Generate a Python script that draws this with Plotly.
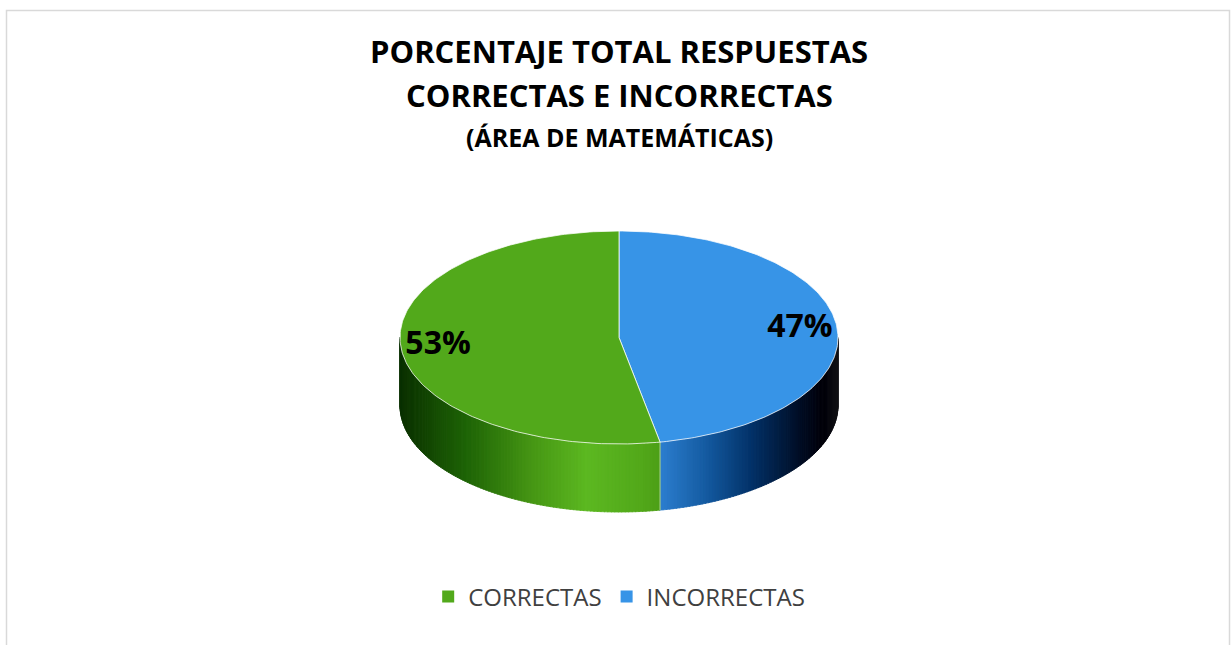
import numpy as np
import plotly.graph_objects as go

# ---------------- data ----------------
categories = ["CORRECTAS", "INCORRECTAS"]
values = [53, 47]
title_lines = ["PORCENTAJE TOTAL RESPUESTAS", "CORRECTAS E INCORRECTAS", "(ÁREA DE MATEMÁTICAS)"]

# ---------------- style ----------------
W, H = 1231, 645
FONT = "Open Sans"
top_colors = {"CORRECTAS": "#52A91B", "INCORRECTAS": "#3794E7"}
# side shading stops: (normalised x position, rgb)
side_stops = {
    "CORRECTAS": [(-1.0, (10, 48, 0)), (-0.7, (30, 100, 6)), (-0.4, (70, 150, 20)),
                  (-0.15, (92, 184, 33)), (0.1, (82, 168, 26)), (0.25, (72, 152, 20))],
    "INCORRECTAS": [(0.15, (48, 132, 215)), (0.4, (20, 90, 160)), (0.6, (3, 50, 105)),
                    (0.82, (0, 14, 38)), (0.93, (0, 0, 8)), (1.0, (18, 18, 22))],
}
cx, cy, rx, ry, depth = 619, 337.5, 219, 106.5, 68
label_r = 0.83

# pie slices: first (INCORRECTAS) starts at 12 o'clock, clockwise
draw_order = ["INCORRECTAS", "CORRECTAS"]
val = dict(zip(categories, values))
total = float(sum(values))


def pt(a, dy=0.0):
    return cx + rx * np.sin(a), cy - ry * np.cos(a) + dy


def shade(cat, u):
    st = side_stops[cat]
    us = [s[0] for s in st]
    rgb = [int(round(np.interp(u, us, [s[1][k] for s in st]))) for k in range(3)]
    return "rgb(%d,%d,%d)" % tuple(rgb)


fig = go.Figure()

spans = {}
start = 0.0
for cat in draw_order:
    span = 2 * np.pi * val[cat] / total
    spans[cat] = (start, start + span)
    start += span

# side wall (visible front half: pi/2 .. 3pi/2)
for cat in draw_order:
    a0, a1 = spans[cat]
    lo, hi = max(a0, np.pi / 2), min(a1, 3 * np.pi / 2)
    if hi <= lo:
        continue
    n = max(2, int((hi - lo) / (np.pi / 200)))
    edges = np.linspace(lo, hi, n + 1)
    for e0, e1 in zip(edges[:-1], edges[1:]):
        sub = np.linspace(e0, e1 + (e1 - e0) * 0.2, 4)
        xt, yt = pt(sub)
        xb, yb = pt(sub[::-1], depth)
        xs = np.concatenate([xt, xb, xt[:1]])
        ys = np.concatenate([yt, yb, yt[:1]])
        c = shade(cat, np.sin((e0 + e1) / 2))
        fig.add_trace(go.Scatter(x=xs, y=ys, mode="lines", fill="toself", fillcolor=c,
                                 line=dict(width=0.8, color=c), hoverinfo="skip", showlegend=False))

# boundary highlight on the side where slices meet
for cat in draw_order:
    a0, _ = spans[cat]
    if np.pi / 2 < a0 < 3 * np.pi / 2:
        x0, y0 = pt(a0)
        fig.add_trace(go.Scatter(x=[x0, x0], y=[y0, y0 + depth], mode="lines",
                                 line=dict(color="rgba(255,255,255,0.55)", width=1),
                                 hoverinfo="skip", showlegend=False))

# top faces
for cat in draw_order:
    a0, a1 = spans[cat]
    arc = np.linspace(a0, a1, 200)
    xa, ya = pt(arc)
    xs = np.concatenate([[cx], xa, [cx]])
    ys = np.concatenate([[cy], ya, [cy]])
    fig.add_trace(go.Scatter(x=xs, y=ys, mode="lines", fill="toself", fillcolor=top_colors[cat],
                             line=dict(color="rgba(255,255,255,0.75)", width=1),
                             hoverinfo="skip", showlegend=False))

# percentage labels
for cat in draw_order:
    a0, a1 = spans[cat]
    am = (a0 + a1) / 2
    lx = cx + rx * label_r * np.sin(am)
    ly = cy - ry * label_r * np.cos(am)
    fig.add_trace(go.Scatter(x=[lx], y=[ly], mode="text",
                             text=["<b>%d%%</b>" % round(100 * val[cat] / total)],
                             textfont=dict(family=FONT, size=32, color="#000000"),
                             hoverinfo="skip", showlegend=False))

# legend entries
for cat in categories:
    fig.add_trace(go.Scatter(x=[None], y=[None], mode="markers", name=cat,
                             marker=dict(symbol="square", size=15, color=top_colors[cat])))

# title lines
title_y = [51, 95, 137]
title_size = [31, 31, 25]
for txt, yy, sz in zip(title_lines, title_y, title_size):
    fig.add_annotation(x=0.503, y=1 - yy / H, xref="paper", yref="paper", text="<b>%s</b>" % txt,
                       showarrow=False, xanchor="center", yanchor="middle",
                       font=dict(family=FONT, size=sz, color="#000000"))

# chart border
fig.add_shape(type="rect", xref="paper", yref="paper", x0=6.5 / W, x1=1229.5 / W,
              y0=-0.1, y1=1 - 10.5 / H, line=dict(color="#D9D9D9", width=1.5), layer="below")

fig.update_layout(
    width=W, height=H, margin=dict(l=0, r=0, t=0, b=0),
    paper_bgcolor="white", plot_bgcolor="white",
    xaxis=dict(range=[0, W], visible=False, fixedrange=True),
    yaxis=dict(range=[H, 0], visible=False, fixedrange=True),
    showlegend=True,
    legend=dict(orientation="h", x=0.503, xanchor="center", y=1 - 597 / H, yanchor="middle",
                font=dict(family=FONT, size=24, color="#404040"), itemsizing="constant",
                bgcolor="rgba(0,0,0,0)"),
)

fig.write_html("out.html", config={"displayModeBar": False},
               post_script="document.body.style.margin='0';document.body.style.overflow='hidden';")
